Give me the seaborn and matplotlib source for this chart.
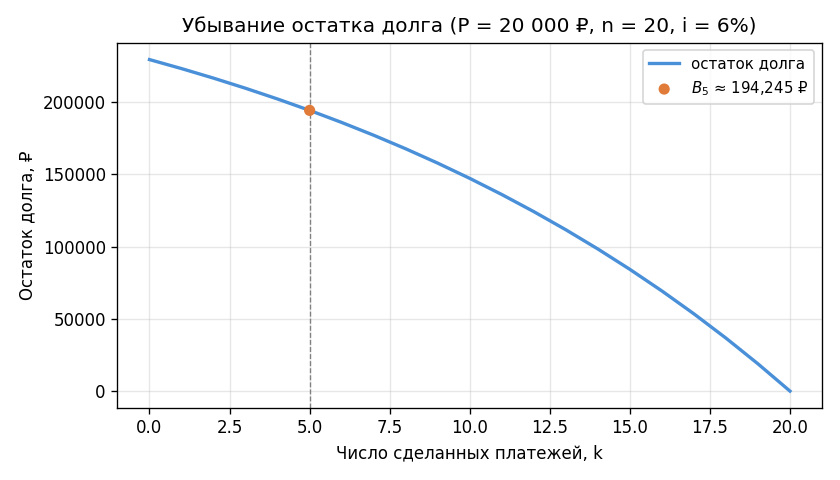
import matplotlib
matplotlib.use("Agg")
import matplotlib.pyplot as plt
import seaborn as sns
import pandas as pd

k_values = list(range(21))
balance = [229398.43, 223162.33, 216552.07, 209545.19, 202117.90, 194244.98,
           185899.68, 177053.66, 167676.88, 157737.49, 147201.74, 136033.85,
           124195.88, 111647.63, 98346.49, 84247.27, 69302.11, 53460.24,
           36667.85, 18867.92, 0.0]
k_mark = [5]
b_mark = [194244.98]

df = pd.DataFrame({"k": k_values, "B": balance})
dm = pd.DataFrame({"k": k_mark, "B": b_mark})

plt.rcParams['font.family'] = ['DejaVu Sans']
fig, ax = plt.subplots(figsize=(7, 4), dpi=120)

sns.lineplot(data=df, x="k", y="B", ax=ax, color="#4a90d9", linewidth=2,
             label="остаток долга")
ax.axvline(k_mark[0], color="gray", linestyle="--", linewidth=0.8)
sns.scatterplot(data=dm, x="k", y="B", ax=ax, color="#e07b39", s=45,
                edgecolor="none", zorder=5,
                label=r"$B_5$ ≈ 194,245 ₽")

ax.grid(True, alpha=0.3)
ax.set_title("Убывание остатка долга (P = 20 000 ₽, n = 20, i = 6%)", fontsize=12)
ax.set_xlabel("Число сделанных платежей, k", fontsize=10)
ax.set_ylabel("Остаток долга, ₽", fontsize=10)
ax.legend(loc="upper right", fontsize=9)
fig.tight_layout()
fig.savefig("out.png", dpi=120)
